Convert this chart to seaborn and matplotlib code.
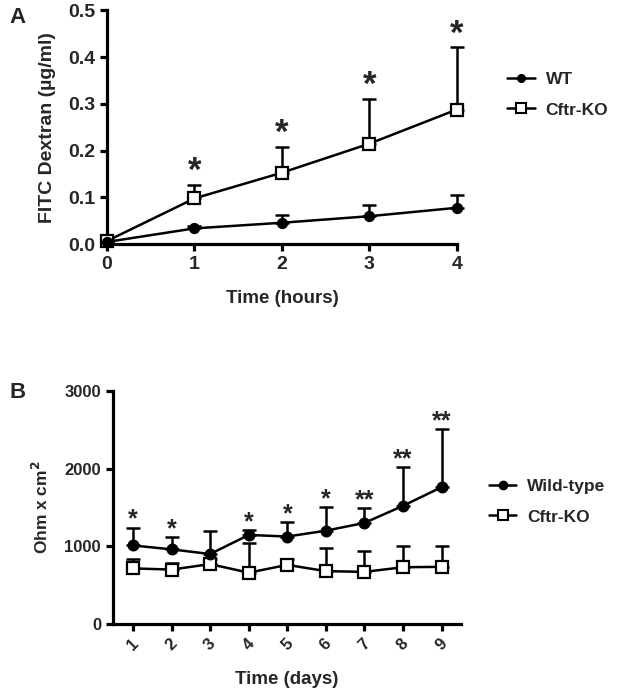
import numpy as np
import pandas as pd
import matplotlib
matplotlib.use("Agg")
import matplotlib.pyplot as plt
import seaborn as sns
from matplotlib.lines import Line2D

# Panel A: FITC dextran over time
hours = [0, 1, 2, 3, 4]
wt_fitc = [0.005, 0.034, 0.046, 0.060, 0.078]
wt_fitc_err = [0.003, 0.004, 0.016, 0.023, 0.028]
ko_fitc = [0.007, 0.098, 0.153, 0.215, 0.288]
ko_fitc_err = [0.004, 0.029, 0.055, 0.096, 0.133]
stars_a = ['', '*', '*', '*', '*']

# Panel B: TEER over days
days = [1, 2, 3, 4, 5, 6, 7, 8, 9]
wt_teer = [1010, 960, 900, 1145, 1125, 1200, 1300, 1520, 1760]
wt_teer_err = [230, 160, 300, 60, 190, 305, 195, 500, 750]
ko_teer = [715, 700, 770, 660, 760, 680, 670, 730, 735]
ko_teer_err = [120, 90, 60, 380, 70, 295, 270, 275, 265]
stars_b = ['*', '*', '', '*', '*', '*', '**', '**', '**']

sns.set_style("ticks")
plt.rcParams['font.family'] = ['Liberation Sans', 'DejaVu Sans']
plt.rcParams['font.weight'] = 'bold'
plt.rcParams['axes.labelweight'] = 'bold'

fig = plt.figure(figsize=(6.17, 6.92), dpi=100)
ax_a = fig.add_axes([0.1734, 0.647, 0.567, 0.338])
ax_b = fig.add_axes([0.183, 0.0983, 0.564, 0.337])

df_a = pd.DataFrame({
    'Time': hours * 2,
    'FITC': wt_fitc + ko_fitc,
    'Group': ['WT'] * len(hours) + ['Cftr-KO'] * len(hours),
})
df_b = pd.DataFrame({
    'Time': days * 2,
    'TEER': wt_teer + ko_teer,
    'Group': ['Wild-type'] * len(days) + ['Cftr-KO'] * len(days),
})


def style_axes(ax, labelsize, lw=2.3):
    sns.despine(ax=ax)
    for s in ['left', 'bottom']:
        ax.spines[s].set_linewidth(lw)
        ax.spines[s].set_color('black')
    ax.tick_params(width=lw, length=5, color='black', labelsize=labelsize)
    for lab in ax.get_xticklabels() + ax.get_yticklabels():
        lab.set_fontweight('bold')


def draw_panel(ax, df, ycol, names, wt_err, ko_err, ms_c, ms_s):
    for name, err, mk, fc, ms, z in [(names[0], wt_err, 'o', 'black', ms_c, 4),
                                     (names[1], ko_err, 's', 'white', ms_s, 3)]:
        sub = df[df['Group'] == name]
        ax.errorbar(sub['Time'], sub[ycol], yerr=[np.zeros(len(err)), err],
                    fmt='none', ecolor='black', elinewidth=1.8, capsize=5,
                    capthick=1.8, zorder=z - 1, clip_on=False)
        sns.lineplot(data=sub, x='Time', y=ycol, ax=ax, color='black',
                     linewidth=1.8, marker=mk, markersize=ms,
                     markerfacecolor=fc, markeredgecolor='black',
                     markeredgewidth=1.6, zorder=z, clip_on=False, legend=False)


def legend_handles(ms_c, ms_s):
    return [
        Line2D([], [], color='black', lw=1.8, marker='o', markersize=ms_c,
               markerfacecolor='black', markeredgecolor='black'),
        Line2D([], [], color='black', lw=1.8, marker='s', markersize=ms_s,
               markerfacecolor='white', markeredgecolor='black', markeredgewidth=1.5),
    ]


# ---- Panel A ----
draw_panel(ax_a, df_a, 'FITC', ['WT', 'Cftr-KO'], wt_fitc_err, ko_fitc_err, 6.5, 8.5)
for x, y, e, s in zip(hours, ko_fitc, ko_fitc_err, stars_a):
    if s:
        ax_a.text(x, y + e + 0.008, s, ha='center', va='baseline', fontsize=25)
ax_a.set_xlim(0, 4)
ax_a.set_ylim(0, 0.5)
ax_a.set_xticks(hours)
ax_a.set_yticks([0.0, 0.1, 0.2, 0.3, 0.4, 0.5])
ax_a.set_yticklabels(['0.0', '0.1', '0.2', '0.3', '0.4', '0.5'])
ax_a.set_xlabel('Time (hours)', fontsize=13.5, fontweight='bold', labelpad=12)
ax_a.set_ylabel('FITC Dextran (µg/ml)', fontsize=14, fontweight='bold', labelpad=9)
style_axes(ax_a, 14)

ax_a.legend(legend_handles(5.5, 7), ['WT', 'Cftr-KO'], loc='center left',
            bbox_to_anchor=(1.1, 0.64), frameon=False, handlelength=1.6,
            handletextpad=0.6, labelspacing=0.9,
            prop={'weight': 'bold', 'size': 12.5})

# ---- Panel B ----
draw_panel(ax_b, df_b, 'TEER', ['Wild-type', 'Cftr-KO'], wt_teer_err, ko_teer_err, 7, 8.5)
for x, y, e, s in zip(days, wt_teer, wt_teer_err, stars_b):
    if s:
        ax_b.text(x, y + e + 10, s, ha='center', va='baseline', fontsize=18)
ax_b.set_xlim(0.48, 9.5)
ax_b.set_ylim(0, 3000)
ax_b.set_xticks(days)
ax_b.set_yticks([0, 1000, 2000, 3000])
ax_b.set_xlabel('Time (days)', fontsize=13.5, fontweight='bold', labelpad=13)
ax_b.set_ylabel('Ohm x cm$^\\mathbf{2}$', fontsize=12.5, fontweight='bold', labelpad=10)
style_axes(ax_b, 12)
ax_b.tick_params(axis='x', labelsize=12)
for lab in ax_b.get_xticklabels():
    lab.set_rotation(45)
    lab.set_ha('center')

ax_b.legend(legend_handles(6, 7.5), ['Wild-type', 'Cftr-KO'], loc='center left',
            bbox_to_anchor=(1.035, 0.525), frameon=False, handlelength=1.6,
            handletextpad=0.6, labelspacing=0.9,
            prop={'weight': 'bold', 'size': 12.5})

fig.text(0.016, 0.975, 'A', fontsize=16, fontweight='bold', va='center')
fig.text(0.016, 0.433, 'B', fontsize=16, fontweight='bold', va='center')

fig.savefig('out.png', dpi=100)
